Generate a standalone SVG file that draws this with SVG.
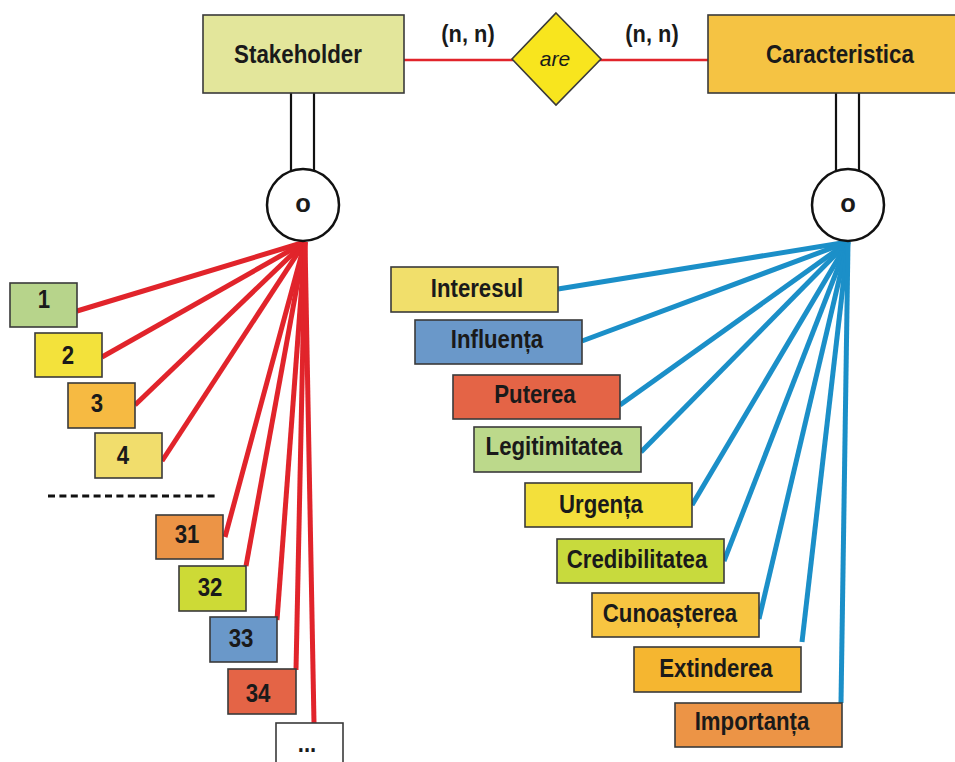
<svg xmlns="http://www.w3.org/2000/svg" width="955" height="762" viewBox="0 0 955 762">
  <style>
    .box { stroke: #3a3a3a; stroke-width: 1.6; }
    .lbl { font-family: "Liberation Sans", Arial, sans-serif; font-weight: bold; font-size: 25.5px; fill: #1a1a1a; text-anchor: middle; }
    .ent { font-family: "Liberation Sans", Arial, sans-serif; font-weight: bold; font-size: 26px; fill: #1a1a1a; text-anchor: middle; }
    .card { font-family: "Liberation Sans", Arial, sans-serif; font-weight: bold; font-size: 23px; fill: #1a1a1a; text-anchor: middle; }
    .red { stroke: #e1242b; stroke-width: 5; stroke-linecap: butt; fill: none; }
    .blue { stroke: #1b8fc8; stroke-width: 5; stroke-linecap: butt; fill: none; }
    .rel { stroke: #e1242b; stroke-width: 2.5; fill: none; }
    .stem { stroke: #111; stroke-width: 2.2; fill: none; }
    .ring { fill: #fff; stroke: #111; stroke-width: 2.5; }
  </style>

  <rect width="955" height="762" fill="#fff"/>

  <!-- connectors -->
  <g id="connectors">
    <line class="rel" x1="404" y1="60" x2="513" y2="60"/>
    <line class="rel" x1="600" y1="60" x2="709" y2="60"/>
    <!-- inheritance stems -->
    <line class="stem" x1="291" y1="93" x2="291" y2="172"/>
    <line class="stem" x1="314" y1="93" x2="314" y2="172"/>
    <line class="stem" x1="836" y1="93" x2="836" y2="172"/>
    <line class="stem" x1="859" y1="93" x2="859" y2="172"/>
    <!-- stakeholder fan -->
    <line class="red" x1="305" y1="242" x2="77" y2="311"/>
    <line class="red" x1="305" y1="242" x2="102" y2="357"/>
    <line class="red" x1="305" y1="242" x2="135" y2="405"/>
    <line class="red" x1="305" y1="242" x2="162" y2="461"/>
    <line class="red" x1="305" y1="242" x2="225" y2="537"/>
    <line class="red" x1="305" y1="242" x2="246" y2="566"/>
    <line class="red" x1="305" y1="242" x2="277" y2="620"/>
    <line class="red" x1="305" y1="242" x2="296" y2="670"/>
    <line class="red" x1="305" y1="242" x2="314" y2="723"/>
    <!-- characteristic fan -->
    <line class="blue" x1="848" y1="242" x2="558" y2="289"/>
    <line class="blue" x1="848" y1="242" x2="582" y2="341"/>
    <line class="blue" x1="848" y1="242" x2="620" y2="405"/>
    <line class="blue" x1="848" y1="242" x2="641" y2="452"/>
    <line class="blue" x1="848" y1="242" x2="692" y2="505"/>
    <line class="blue" x1="848" y1="242" x2="724" y2="561"/>
    <line class="blue" x1="848" y1="242" x2="759" y2="619"/>
    <line class="blue" x1="848" y1="242" x2="802" y2="642"/>
    <line class="blue" x1="848" y1="242" x2="841" y2="703"/>
  </g>

  <!-- cardinalities -->
  <text class="card" transform="translate(468,42) scale(0.95,1)">(n, n)</text>
  <text class="card" transform="translate(652,42) scale(0.95,1)">(n, n)</text>

  <g id="stakeholder">
    <rect class="box" x="203" y="15" width="201" height="78" fill="#e3e69b"/>
    <text class="ent" transform="translate(298,63) scale(0.86,1)">Stakeholder</text>
  </g>
  <g id="are">
    <polygon class="box" points="556,13 601,59 556,105 512,59" fill="#f8e51e"/>
    <text x="555" y="66" font-family="Liberation Sans, Arial, sans-serif" font-style="italic" font-size="21" fill="#1a1a1a" text-anchor="middle">are</text>
  </g>
  <g id="caracteristica">
    <rect class="box" x="708" y="15" width="260" height="78" fill="#f5c343"/>
    <text class="ent" transform="translate(840,63) scale(0.86,1)">Caracteristica</text>
  </g>

  <g id="stakeholder-disjoint">
    <circle class="ring" cx="303" cy="205" r="36"/>
    <text class="lbl" x="303" y="212">o</text>
  </g>
  <g id="caracteristica-disjoint">
    <circle class="ring" cx="848" cy="205" r="36"/>
    <text class="lbl" x="848" y="212">o</text>
  </g>

  <!-- stakeholder instances -->
  <g id="s1"><rect class="box" x="10" y="283" width="67" height="44" fill="#b7d48b"/><text class="lbl" transform="translate(44,308) scale(0.87,1)">1</text></g>
  <g id="s2"><rect class="box" x="35" y="333" width="67" height="44" fill="#f3e23b"/><text class="lbl" transform="translate(68,364) scale(0.87,1)">2</text></g>
  <g id="s3"><rect class="box" x="68" y="383" width="67" height="45" fill="#f6ba42"/><text class="lbl" transform="translate(97,412) scale(0.87,1)">3</text></g>
  <g id="s4"><rect class="box" x="95" y="433" width="67" height="45" fill="#f1dd6c"/><text class="lbl" transform="translate(123,464) scale(0.87,1)">4</text></g>
  <line x1="48" y1="496" x2="219" y2="496" stroke="#111" stroke-width="3" stroke-dasharray="7 4.4"/>
  <g id="s31"><rect class="box" x="156" y="515" width="67" height="44" fill="#ec9446"/><text class="lbl" transform="translate(187,543) scale(0.87,1)">31</text></g>
  <g id="s32"><rect class="box" x="179" y="566" width="67" height="45" fill="#cdda36"/><text class="lbl" transform="translate(210,596) scale(0.87,1)">32</text></g>
  <g id="s33"><rect class="box" x="210" y="617" width="67" height="45" fill="#6a98c9"/><text class="lbl" transform="translate(241,647) scale(0.87,1)">33</text></g>
  <g id="s34"><rect class="box" x="228" y="669" width="68" height="45" fill="#e46446"/><text class="lbl" transform="translate(258,702) scale(0.87,1)">34</text></g>
  <g id="smore"><rect class="box" x="276" y="723" width="67" height="45" fill="#fff"/><text class="lbl" transform="translate(307,752) scale(0.87,1)">...</text></g>

  <!-- characteristic instances -->
  <g id="interesul"><rect class="box" x="391" y="267" width="167" height="45" fill="#f1df6b"/><text class="lbl" transform="translate(477,297) scale(0.87,1)">Interesul</text></g>
  <g id="influenta"><rect class="box" x="415" y="320" width="167" height="44" fill="#6a98c9"/><text class="lbl" transform="translate(497,348) scale(0.87,1)">Influența</text></g>
  <g id="puterea"><rect class="box" x="453" y="375" width="167" height="44" fill="#e46446"/><text class="lbl" transform="translate(535,403) scale(0.87,1)">Puterea</text></g>
  <g id="legitimitatea"><rect class="box" x="474" y="427" width="167" height="45" fill="#bcd98b"/><text class="lbl" transform="translate(554,455) scale(0.87,1)">Legitimitatea</text></g>
  <g id="urgenta"><rect class="box" x="525" y="483" width="167" height="44" fill="#f3e03b"/><text class="lbl" transform="translate(601,513) scale(0.87,1)">Urgența</text></g>
  <g id="credibilitatea"><rect class="box" x="557" y="539" width="167" height="44" fill="#c8da3d"/><text class="lbl" transform="translate(637,568) scale(0.87,1)">Credibilitatea</text></g>
  <g id="cunoasterea"><rect class="box" x="592" y="593" width="167" height="44" fill="#f7c541"/><text class="lbl" transform="translate(670,622) scale(0.87,1)">Cunoașterea</text></g>
  <g id="extinderea"><rect class="box" x="634" y="647" width="167" height="45" fill="#f5b630"/><text class="lbl" transform="translate(716,677) scale(0.87,1)">Extinderea</text></g>
  <g id="importanta"><rect class="box" x="675" y="703" width="167" height="44" fill="#ec9446"/><text class="lbl" transform="translate(752,730) scale(0.87,1)">Importanța</text></g>
</svg>
